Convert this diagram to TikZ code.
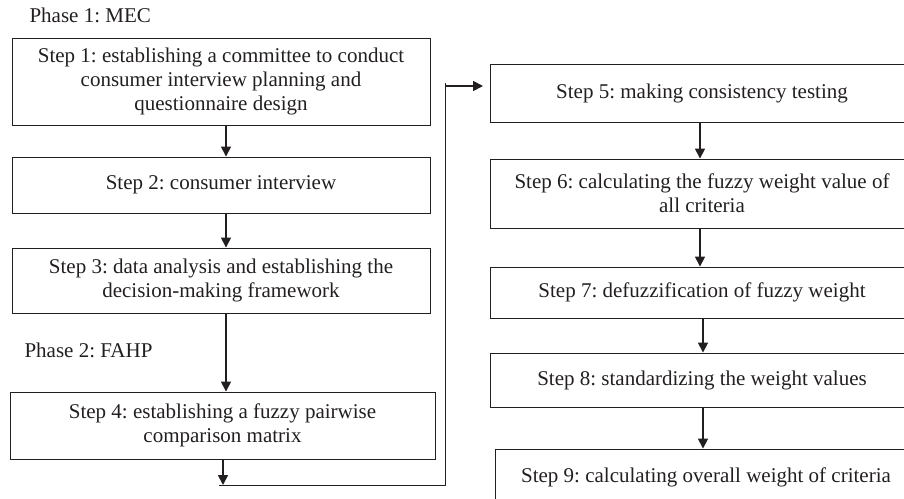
\documentclass[tikz,border=0pt]{standalone}
\usepackage{fontspec}
\setmainfont{Liberation Serif}
\frenchspacing
\usetikzlibrary{arrows.meta,calc}
\definecolor{InkGray}{HTML}{231F20}

\begin{document}
\begin{tikzpicture}[x=1pt, y=-1pt,
  every node/.style={font=\fontsize{21}{24}\selectfont, text=InkGray},
  stepbox/.style={draw=InkGray, line width=0.9pt, align=center, inner sep=0pt, minimum width=418pt},
  flow/.style={draw=InkGray, line width=1.6pt, -{Triangle[length=10pt,width=10pt]}},
  link/.style={draw=InkGray, line width=0.9pt}]
  \useasboundingbox (0,0) rectangle (904,498);
  \clip (0,0) rectangle (904,498);
  % phase 1
  \node[anchor=base west] (phase1) at (26,22) {Phase 1: MEC};
  \node[stepbox, minimum height=87pt] (step1) at (221,81.5)
    {Step 1: establishing a committee to conduct\\consumer interview planning and\\questionnaire design};
  \node[stepbox, minimum height=56pt] (step2) at (221,185) {Step 2: consumer interview};
  \node[stepbox, minimum height=65pt] (step3) at (221,280.5)
    {Step 3: data analysis and establishing the\\decision-making framework};
  % phase 2
  \node[anchor=base west] (phase2) at (21,357) {Phase 2: FAHP};
  \node[stepbox, minimum width=425pt, minimum height=67pt] (step4) at (222.5,425.5)
    {Step 4: establishing a fuzzy pairwise\\comparison matrix};
  \node[stepbox, minimum width=424pt, minimum height=58pt] (step5) at (702,93) {Step 5: making consistency testing};
  \node[stepbox, minimum width=424pt, minimum height=69pt] (step6) at (702,193.5)
    {Step 6: calculating the fuzzy weight value of\\all criteria};
  \node[stepbox, minimum width=424pt, minimum height=51pt] (step7) at (702,292.5) {Step 7: defuzzification of fuzzy weight};
  \node[stepbox, minimum width=424pt, minimum height=54pt] (step8) at (702,380) {Step 8: standardizing the weight values};
  \node[stepbox, minimum width=422pt, minimum height=56pt] (step9) at (706,477) {Step 9: calculating overall weight of criteria};
  % arrows
  \foreach \a/\b/\dx in {step1/step2/5,step2/step3/5,step3/step4/5,step5/step6/-2,step6/step7/-2,step7/step8/1,step8/step9/1}
    \draw[flow] ($(\a.south)+(\dx,0)$) -- ($(\a.south |- \b.north)+(\dx,0)$);
  \coordinate (turn) at (223,485);
  \coordinate (start) at (219,485);
  \coordinate (corner) at (445,485);
  \coordinate (top) at (445,83);
  \coordinate (exit) at (445,86);
  \coordinate (entry) at (483,86);
  \draw[flow] (step4.south -| turn) -- (turn);
  \draw[link] (start) -- (corner) -- (top);
  \draw[flow] (exit) -- (entry);
\end{tikzpicture}
\end{document}
